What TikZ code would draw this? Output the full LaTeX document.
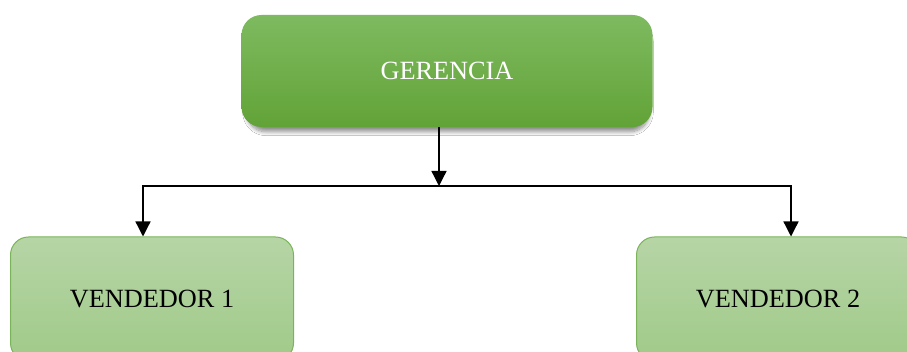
\documentclass[tikz,border=0pt]{standalone}
\usepackage{fontspec}
\setmainfont{Liberation Serif}
\usetikzlibrary{arrows.meta,shadows.blur}
\definecolor{gtop}{RGB}{126,186,96}
\definecolor{gbot}{RGB}{98,163,55}
\definecolor{ltop}{RGB}{182,213,166}
\definecolor{lbot}{RGB}{160,202,137}
\definecolor{lborder}{RGB}{122,180,90}
\tikzset{
  topbox/.style={rounded corners=20pt, top color=gtop, bottom color=gbot,
    minimum width=411pt, minimum height=112pt, inner sep=0pt,
    text=white, font=\fontsize{26.3}{30}\selectfont,
    blur shadow={shadow scale=0.98, shadow xshift=1pt, shadow yshift=-6pt, shadow blur radius=4pt, shadow blur steps=8, shadow opacity=45}},
  subbox/.style={rounded corners=18pt, top color=ltop, bottom color=lbot,
    draw=lborder, line width=1pt,
    minimum width=283pt, minimum height=124pt, inner sep=0pt,
    text=black, font=\fontsize{26.3}{30}\selectfont},
  conn/.style={line width=1.3pt, draw=black},
  arr/.style={conn, -{Triangle[length=15pt,width=15pt]}}
}
\begin{document}
\begin{tikzpicture}[x=1pt,y=1pt]
\useasboundingbox (0,0) rectangle (907,352);
\fill[white] (0,0) rectangle (907,352);
\node[topbox] (g) at (447,281) {GERENCIA};
\node[subbox] (v1) at (152,53) {VENDEDOR 1};
\node[subbox] (v2) at (778,53) {VENDEDOR 2};
\coordinate (j) at (439,166);
\draw[arr] ([xshift=-8pt]g.south) -- (j);
\draw[arr] (j) -| ([xshift=-9pt]v1.north);
\draw[arr] (j) -| ([xshift=13pt]v2.north);
\end{tikzpicture}
\end{document}
